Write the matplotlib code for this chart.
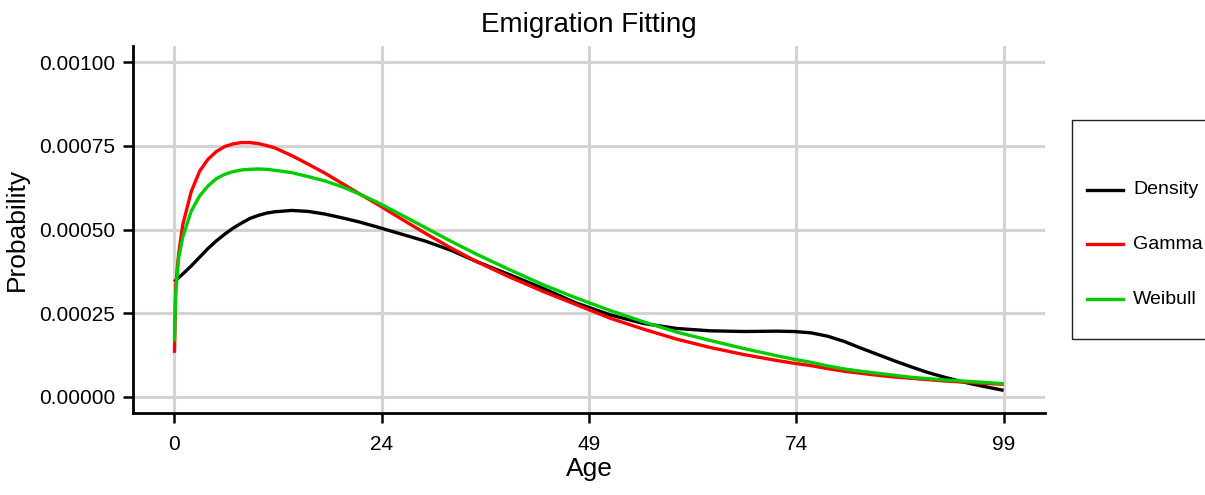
import numpy as np
import matplotlib
matplotlib.use("Agg")
import matplotlib.pyplot as plt
from matplotlib.lines import Line2D
from matplotlib.patches import Rectangle

plt.rcParams['font.family'] = ['Liberation Sans', 'DejaVu Sans']

# age grid and probability curves (units of 1e-4)
age = [0, 0.15, 0.5, 1, 2, 3, 4, 5, 6, 7, 8, 9, 10, 11, 12, 14, 16, 18, 20, 22, 24,
       27, 30, 33, 36, 40, 44, 48, 52, 56, 60, 64, 68, 72, 74, 76, 78, 80, 82, 84,
       86, 88, 90, 92, 94, 96, 99]

density = [3.44, 3.48, 3.56, 3.67, 3.91, 4.17, 4.43, 4.66, 4.86, 5.04, 5.19, 5.33, 5.42, 5.49,
           5.53, 5.57, 5.54, 5.46, 5.35, 5.23, 5.09, 4.87, 4.65, 4.38, 4.05, 3.65, 3.24,
           2.80, 2.45, 2.19, 2.04, 1.97, 1.95, 1.96, 1.95, 1.91, 1.81, 1.65, 1.45, 1.26,
           1.07, 0.89, 0.72, 0.58, 0.45, 0.34, 0.19]

gamma = [1.31, 3.30, 4.27, 5.15, 6.13, 6.74, 7.10, 7.33, 7.48, 7.56, 7.60, 7.60, 7.57, 7.51,
         7.44, 7.21, 6.95, 6.68, 6.38, 6.08, 5.79, 5.33, 4.88, 4.45, 4.05, 3.58, 3.15,
         2.75, 2.35, 2.02, 1.72, 1.47, 1.26, 1.08, 1.00, 0.93, 0.84, 0.76, 0.70, 0.64,
         0.59, 0.55, 0.51, 0.47, 0.44, 0.41, 0.37]

weibull = [1.65, 3.10, 4.15, 4.78, 5.55, 6.00, 6.30, 6.52, 6.65, 6.73, 6.78, 6.80, 6.81, 6.80,
           6.77, 6.70, 6.58, 6.45, 6.28, 6.07, 5.84, 5.45, 5.05, 4.65, 4.27, 3.80, 3.35,
           2.95, 2.58, 2.24, 1.93, 1.68, 1.44, 1.22, 1.12, 1.03, 0.92, 0.83, 0.76, 0.70,
           0.64, 0.58, 0.54, 0.50, 0.47, 0.44, 0.39]

series = [("Density", density, "#000000"),
          ("Gamma", gamma, "#FF0000"),
          ("Weibull", weibull, "#00CC00")]

xtick_pos = np.linspace(0, 99, 5)
xtick_labels = ["0", "24", "49", "74", "99"]
ytick_pos = [0, 0.00025, 0.0005, 0.00075, 0.001]

fig = plt.figure(figsize=(12.05, 4.95), dpi=100)
ax = fig.add_axes([133 / 1205, 1 - 413 / 495, (1045 - 133) / 1205, (413 - 46) / 495])

for name, vals, col in series:
    ax.plot(age, np.array(vals) * 1e-4, color=col, lw=2.4, solid_capstyle='butt', zorder=3)

ax.set_xlim(-4.95, 103.95)
ax.set_ylim(-0.0000487, 0.0010487)
ax.set_xticks(xtick_pos)
ax.set_xticklabels(xtick_labels, fontsize=15)
ax.set_yticks(ytick_pos)
ax.set_yticklabels([f"{v:.5f}" for v in ytick_pos], fontsize=15)

ax.grid(True, color='#D3D3D3', lw=2.2)
ax.set_axisbelow(True)
for side in ['top', 'right']:
    ax.spines[side].set_visible(False)
for side in ['left', 'bottom']:
    ax.spines[side].set_linewidth(2.0)
    ax.spines[side].set_color('black')
ax.tick_params(axis='both', length=7, width=1.8, color='black')
ax.tick_params(axis='x', pad=9)
ax.tick_params(axis='y', pad=6)

ax.set_title("Emigration Fitting", fontsize=20, pad=10)
ax.set_xlabel("Age", fontsize=19, labelpad=2)
ax.set_ylabel("Probability", fontsize=19, labelpad=7)

# legend box on the right, partly outside the figure
fw, fh = 1205, 495
fig.add_artist(Rectangle((1072 / fw, 1 - 339 / fh), 160 / fw, 219 / fh,
                         transform=fig.transFigure, fill=False, ec='#222222', lw=1.0))
for i, (name, vals, col) in enumerate(series):
    yy = 1 - (190 + 54.5 * i) / fh
    fig.add_artist(Line2D([1087 / fw, 1123 / fw], [yy, yy], transform=fig.transFigure,
                          color=col, lw=2.4))
    fig.text(1133 / fw, yy, name, fontsize=14, va='center', ha='left')

fig.savefig("out.png", dpi=100)
